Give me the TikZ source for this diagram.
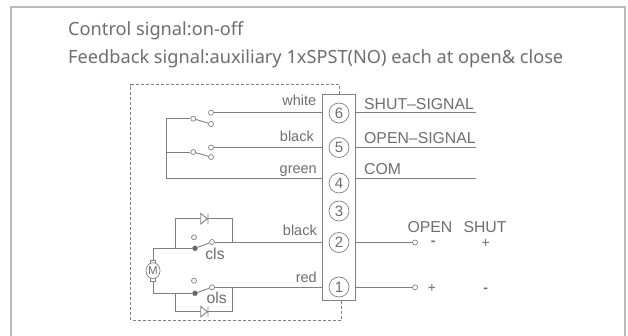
\documentclass[tikz,border=0pt]{standalone}
\usepackage{fontspec}
\usetikzlibrary{shapes.geometric}
\setmainfont{Noto Sans}
\newfontfamily\wirefont{Liberation Sans}
\definecolor{wiregray}{HTML}{808080}
\definecolor{textgray}{HTML}{6E6E6E}
\begin{document}
\begin{tikzpicture} [
        x=1pt, y=-1pt,
        wire/.style={draw=wiregray, line width=0.9pt},
        dashbox/.style={draw=wiregray, line width=0.7pt, densely dashed},
        contact/.style={draw=wiregray, fill=white, circle, line width=0.7pt, inner sep=0pt, minimum size=5pt},
        closed/.style={draw=wiregray, fill=wiregray!80!black, circle, inner sep=0pt, minimum size=5pt},
        terminal/.style={draw=wiregray, circle, line width=0.7pt, inner sep=0pt, minimum size=20pt, text=textgray, font=\wirefont\fontsize{15}{15}\selectfont},
        wirelabel/.style={text=textgray, inner sep=0pt, anchor=base east, font=\wirefont\fontsize{14.5}{15}\selectfont},
        sidelabel/.style={text=textgray, inner sep=0pt, anchor=base west, font=\wirefont\fontsize{15.8}{16}\selectfont},
        polarity/.style={text=textgray, inner sep=0pt, font=\wirefont\fontsize{14}{10}\selectfont},
        headline/.style={text=textgray, inner sep=0pt, anchor=base west, font=\fontsize{18.2}{20}\selectfont} ]
    \useasboundingbox (0,0) rectangle (628,336);
    \coordinate (fa) at (11,336);
    \coordinate (fb) at (11,7);
    \coordinate (fc) at (625,7);
    \coordinate (fd) at (625,336);
    \draw[draw=black!27, line width=1.8pt] (fa) -- (fb) -- (fc) -- (fd);

    \node[headline] (control) at (68,35.5) {Control signal:on-off};
    \node[headline] (feedback) at (68,64) {Feedback signal:auxiliary 1xSPST(NO) each at open\& close};

    \node[draw=wiregray, line width=0.9pt, minimum width=33pt, minimum height=206.5pt, inner sep=0pt] (strip) at (338.8,197.5) {};
    \node[terminal] (t6) at (339,113) {6};
    \node[terminal] (t5) at (339,147.5) {5};
    \node[terminal] (t4) at (339,183) {4};
    \node[terminal] (t3) at (339,211) {3};
    \node[terminal] (t2) at (339,242.5) {2};
    \node[terminal] (t1) at (339,287) {1};

    \draw[dashbox] (339,94.3) |- (130.7,84.7) |- (341,320) -- (341,300.7);

    % feedback switches
    \node[contact] (a1) at (193.3,118.7) {};
    \node[contact] (a2) at (211,112.7) {};
    \node[contact] (a3) at (211,124) {};
    \node[contact] (b1) at (193.3,152) {};
    \node[contact] (b2) at (211,147.5) {};
    \node[contact] (b3) at (211,157) {};
    \coordinate (rail) at (166.7,178.6);
    \coordinate (e6) at (476,112.7);
    \coordinate (e5) at (476,147.5);
    \coordinate (e4) at (476,178.6);
    \draw[wire] (a1) -| (rail) -- (rail -| strip.west);
    \draw[wire] (b1) -- (b1 -| rail);
    \draw[wire] (a1) -- (a3);
    \draw[wire] (b1) -- (b3);
    \draw[wire] (a2) -- (a2 -| strip.west);
    \draw[wire] (b2) -- (b2 -| strip.west);
    \draw[wire] (e6 -| strip.east) -- (e6);
    \draw[wire] (e5 -| strip.east) -- (e5);
    \draw[wire] (e4 -| strip.east) -- (e4);

    \node[wirelabel] (white) at (316.5,106) {white};
    \node[wirelabel] (black1) at (314,141.3) {black};
    \node[wirelabel] (green) at (317,173.5) {green};
    \node[sidelabel] (shut) at (364,109.3) {SHUT–SIGNAL};
    \node[sidelabel] (open) at (364,144) {OPEN–SIGNAL};
    \node[sidelabel] (com) at (364,175) {COM};

    % motor and limit switches
    \node[draw=wiregray, fill=white, line width=0.7pt, minimum width=4.5pt, minimum height=21pt, inner sep=0pt] (brush) at (153,271) {};
    \node[draw=wiregray, fill=white, ellipse, line width=0.7pt, inner sep=0pt, minimum width=14pt, minimum height=16pt, text=textgray, font=\wirefont\fontsize{11.5}{11.5}\selectfont] (motor) at (153,270.7) {M};
    \node[closed] (c1) at (195,248.3) {};
    \node[contact] (c2) at (212,242) {};
    \node[contact] (c3) at (194,237.3) {};
    \node[closed] (d1) at (195,293.3) {};
    \node[contact] (d2) at (212,287.3) {};
    \node[contact] (d3) at (194,280.7) {};
    \draw[wire] (brush.north) |- (c1);
    \draw[wire] (brush.south) |- (d1);
    \draw[wire] (c1) -- (c2);
    \draw[wire] (d1) -- (d2);
    \draw[wire] (c2) -- (c2 -| strip.west);
    \draw[wire] (d2) -- (d2 -| strip.west);

    \coordinate (c4) at (175.7,248.3);
    \coordinate (c5) at (232.3,242);
    \coordinate (d4) at (175.7,293.3);
    \coordinate (d5) at (232.3,287.3);
    \draw[wire] (c4) |- (232.3,218.7) -- (c5);
    \draw[wire] (d4) |- (232.3,311.7) -- (d5);
    \draw[wire, fill=white] (200.7,213.4) -- (207.3,218.7) -- (200.7,224) -- cycle (208,213.4) -- (208,224);
    \draw[wire, fill=white] (200.7,306.4) -- (207.3,311.7) -- (200.7,317) -- cycle (208,306.4) -- (208,317);

    \node[wirelabel] (black2) at (317,236) {black};
    \node[wirelabel] (red) at (317,283) {red};
    \node[sidelabel, anchor=base] (cls) at (215,259) {cls};
    \node[sidelabel, anchor=base] (ols) at (216.7,303.5) {ols};

    \node[contact] (p2) at (415,242.5) {};
    \node[contact] (p1) at (415,287.3) {};
    \draw[wire] (p2 -| strip.east) -- (p2);
    \draw[wire] (p1 -| strip.east) -- (p1);
    \node[sidelabel] (openlabel) at (407.3,232.7) {OPEN};
    \node[sidelabel] (shutlabel) at (463.3,232.7) {SHUT};
    \node[polarity] (m1) at (433.3,243.5) {\textbf{-}};
    \node[polarity] (m2) at (485.7,243) {+};
    \node[polarity] (m3) at (432,288.5) {+};
    \node[polarity] (m4) at (485.7,290) {\textbf{-}};
\end{tikzpicture}
\end{document}
